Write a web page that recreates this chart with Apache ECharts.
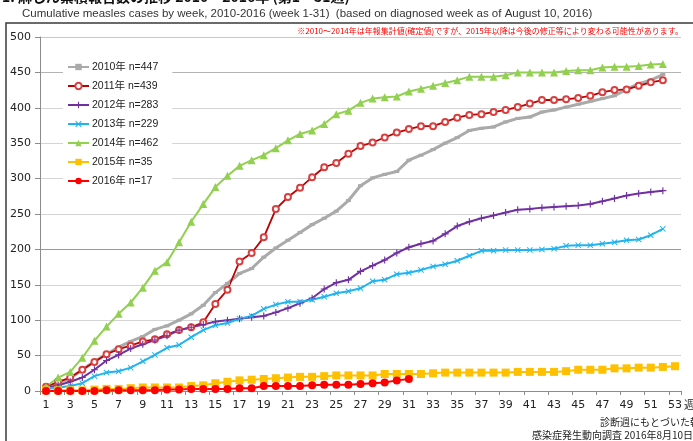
<!DOCTYPE html>
<html>
<head>
<meta charset="utf-8">
<script src="https://cdn.jsdelivr.net/npm/echarts@6/dist/echarts.min.js"></script>
<style>
  html, body { margin: 0; padding: 0; background: #fff; }
  #chart { width: 693px; height: 441px; }
</style>
</head>
<body>
<div id="chart"></div>
<script>
// 週（1〜53）
const weeks = Array.from({ length: 53 }, (_, i) => String(i + 1));

// 累積報告数
const y2010 = [5, 10, 18, 30, 42, 52, 62, 70, 77, 87, 92, 100, 109, 121, 139, 152, 166, 173, 189, 202,
  213, 224, 235, 244, 254, 269, 290, 301, 306, 310, 326, 333, 341, 350, 358, 368, 371, 373, 380, 385,
  387, 394, 397, 401, 405, 409, 413, 417, 426, 434, 439, 447];
const y2011 = [6, 13, 19, 30, 41, 52, 59, 64, 70, 73, 80, 86, 90, 97, 123, 143, 183, 195, 217, 257,
  274, 287, 302, 316, 322, 335, 346, 351, 358, 365, 370, 374, 374, 380, 386, 390, 391, 394, 397, 401,
  406, 411, 411, 412, 414, 417, 422, 425, 426, 431, 436, 439];
const y2012 = [4, 8, 13, 19, 30, 43, 51, 60, 66, 72, 78, 86, 90, 94, 98, 100, 102, 104, 106, 111,
  117, 124, 131, 144, 153, 157, 169, 177, 185, 195, 203, 208, 212, 222, 233, 239, 244, 248, 252, 256,
  257, 259, 260, 261, 262, 264, 268, 272, 276, 279, 281, 283];
const y2013 = [4, 5, 7, 11, 21, 26, 28, 33, 42, 51, 61, 65, 76, 86, 93, 96, 102, 106, 116, 122,
  126, 126, 129, 133, 138, 141, 145, 155, 157, 165, 167, 171, 176, 179, 184, 191, 198, 198, 199, 199,
  199, 200, 201, 205, 206, 206, 208, 210, 213, 214, 220, 229];
const y2014 = [6, 19, 27, 47, 71, 91, 109, 125, 146, 170, 182, 210, 239, 264, 288, 304, 318, 326, 333, 343,
  354, 363, 368, 377, 391, 396, 407, 413, 415, 416, 423, 427, 431, 435, 439, 444, 444, 444, 446, 450,
  450, 450, 450, 452, 453, 453, 457, 458, 458, 459, 461, 462];
const y2015 = [1, 1, 1, 1, 2, 3, 3, 4, 5, 5, 5, 5, 7, 8, 11, 13, 15, 16, 17, 18,
  19, 20, 20, 21, 22, 22, 22, 22, 24, 24, 24, 24, 25, 26, 26, 26, 26, 26, 26, 27,
  27, 27, 27, 28, 30, 30, 30, 32, 32, 33, 33, 34, 35];
const y2016 = [0, 0, 0, 0, 0, 1, 1, 1, 1, 1, 2, 2, 3, 3, 3, 3, 4, 4, 7, 7,
  7, 7, 8, 9, 9, 9, 10, 11, 12, 15, 17];

const seriesNames = ["2010年 n=447", "2011年 n=439", "2012年 n=283", "2013年 n=229",
  "2014年 n=462", "2015年 n=35", "2016年 n=17"];

const plusPath = "path://M4.2,0H5.8V4.2H10V5.8H5.8V10H4.2V5.8H0V4.2H4.2Z";
const crossPath = "path://M1.2,0L5,3.8L8.8,0L10,1.2L6.2,5L10,8.8L8.8,10L5,6.2L1.2,10L0,8.8L3.8,5L0,1.2Z";

const jpFont = "'Noto Sans CJK JP', 'DejaVu Sans', sans-serif";
const numFont = "'DejaVu Sans', 'Noto Sans CJK JP', sans-serif";
const legFont = "'Liberation Sans', 'Noto Sans CJK JP', sans-serif";

const chart = echarts.init(document.getElementById("chart"));

function line(name, data, color, symbol, size, width, extra) {
  return Object.assign({
    name: name,
    type: "line",
    data: data,
    symbol: symbol,
    symbolSize: size,
    showAllSymbol: true,
    animation: false,
    lineStyle: { color: color, width: width },
    itemStyle: { color: color },
  }, extra || {});
}

const gridColors = ["#d4d4d4", "#d4d4d4", "#d4d4d4", "#d4d4d4", "#9a9a9a", "#d4d4d4",
  "#d4d4d4", "#d4d4d4", "#d4d4d4", "#b4b4b4", "#c8c8c8"];

chart.setOption({
  backgroundColor: "#fff",
  textStyle: { fontFamily: jpFont },
  grid: { left: 40, right: 12, top: 37, bottom: 50 },
  legend: {
    orient: "vertical",
    left: 63,
    top: 58,
    itemWidth: 21,
    itemHeight: 8,
    itemGap: 5,
    padding: [2, 14, 2, 4],
    backgroundColor: "#fff",
    data: seriesNames,
    textStyle: { fontSize: 10.5, color: "#222", fontFamily: legFont, lineHeight: 14, padding: [0, 0, 0, -2] },
  },
  xAxis: {
    type: "category",
    data: weeks,
    boundaryGap: true,
    axisLine: { lineStyle: { color: "#8c8c8c", width: 1 } },
    axisTick: { show: true, length: 4, lineStyle: { color: "#8c8c8c" } },
    axisLabel: { interval: 1, fontSize: 11, color: "#222", margin: 9, fontFamily: numFont },
    splitLine: { show: false },
  },
  yAxis: {
    type: "value",
    min: 0,
    max: 500,
    interval: 50,
    axisLine: { show: true, lineStyle: { color: "#8c8c8c" } },
    axisTick: { show: true, length: 5, lineStyle: { color: "#8c8c8c" } },
    axisLabel: { fontSize: 11, color: "#222", margin: 9, fontFamily: numFont },
    splitLine: { lineStyle: { color: gridColors, width: 1.2 } },
  },
  graphic: [
    {
      type: "text", left: 2, top: -10,
      style: { text: "1. 麻しん累積報告数の推移 2010～2016年 (第1～31週)",
        fill: "#111", font: "bold 14px " + jpFont },
    },
    {
      type: "text", left: 22, top: 8,
      style: { text: "Cumulative measles cases by week, 2010-2016 (week 1-31)  (based on diagnosed week as of August 10, 2016)",
        fill: "#333", font: "11.5px 'Liberation Sans', sans-serif" },
    },
    {
      type: "rect", shape: { x: 6, y: 23, width: 700, height: 440 }, silent: true, z: -1,
      style: { fill: null, stroke: "#3a3a3a", lineWidth: 1.5 },
    },
    {
      type: "text", right: 10, top: 27,
      style: { text: "※2010～2014年は年報集計値(確定値)ですが、2015年以降は今後の修正等により変わる可能性があります。",
        fill: "#ff0000", font: "8px " + jpFont },
    },
    {
      type: "text", left: 684, top: 399,
      style: { text: "週", fill: "#222", font: "11px " + jpFont },
    },
    {
      type: "text", left: 600, top: 417,
      style: { text: "診断週にもとづいた報告", fill: "#222", font: "10px " + jpFont },
    },
    {
      type: "text", left: 532, top: 430,
      style: { text: "感染症発生動向調査 2016年8月10日現在", fill: "#222", font: "10px " + jpFont },
    },
  ],
  series: [
    line(seriesNames[0], y2010, "#aaaaaa", "rect", [5, 3], 3),
    line(seriesNames[1], y2011, "#c00000", "emptyCircle", 6, 1.8,
      { itemStyle: { color: "#d84040", borderColor: "#d84040", borderWidth: 1 } }),
    line(seriesNames[2], y2012, "#7030a0", plusPath, 7, 2),
    line(seriesNames[3], y2013, "#1fb4f0", crossPath, 6, 2),
    line(seriesNames[4], y2014, "#92d050", "triangle", 8, 2),
    line(seriesNames[5], y2015, "#ffc000", "rect", 8, 2),
    line(seriesNames[6], y2016, "#ff0000", "circle", 8, 2),
  ],
});
</script>
</body>
</html>
